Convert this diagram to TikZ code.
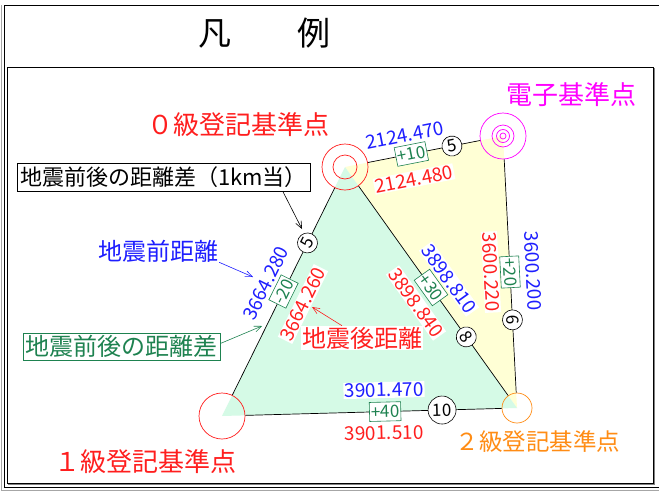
\documentclass[tikz,border=0pt]{standalone}
\usepackage{fontspec}
\setmainfont{Noto Sans CJK JP}
\usetikzlibrary{arrows.meta,calc}
\definecolor{cblue}{RGB}{30,30,255}
\definecolor{cred}{RGB}{255,30,30}
\definecolor{cgreen}{RGB}{30,130,80}
\definecolor{cmag}{RGB}{255,0,255}
\definecolor{corange}{RGB}{255,140,20}
\definecolor{fgreen}{RGB}{213,250,230}
\definecolor{fyellow}{RGB}{255,255,213}
\begin{document}
\begin{tikzpicture}[x=1pt,y=-1pt,
  numlbl/.style={font=\fontsize{19}{19}\selectfont, inner sep=1pt, fill=white},
  bnum/.style={numlbl, text=cblue},
  rnum/.style={numlbl, text=cred},
  diffbox/.style={draw=cgreen, text=cgreen, fill=white, font=\fontsize{17}{17}\selectfont, inner sep=1.5pt, minimum height=19pt, line width=0.6pt},
  cnum/.style={circle, draw, fill=white, font=\fontsize{17}{17}\selectfont, inner sep=0pt, minimum size=20pt, line width=0.6pt},
  station/.style={circle, inner sep=0pt, line width=0.7pt},
  seg/.style={line width=0.7pt},
  ann/.style={line width=0.6pt, -{Straight Barb[length=7pt,width=6pt]}},
  bigtxt/.style={font=\fontsize{26}{26}\selectfont, inner sep=0pt},
  midtxt/.style={font=\fontsize{24}{24}\selectfont, inner sep=1pt},
]
\useasboundingbox (0,0) rectangle (659,493);
% frames
\draw[gray!70, line width=1pt] (1.5,5) -- (1.5,490) -- (659,490);
\draw[line width=0.8pt] (659,5.5) -- (4,5.5) -- (4,487.5) -- (659,487.5);
\draw[line width=0.8pt, fill=white] (7,67) rectangle (653,483);
\draw[gray, line width=1.5pt] (654.5,68) -- (654.5,484.5) -- (8,484.5);
% title
\node[font=\fontsize{33}{33}\selectfont] (title) at (264,33) {凡　　例};
% coordinates of stations
\coordinate (c0) at (345,167);
\coordinate (ce) at (503,136);
\coordinate (c1) at (222,416);
\coordinate (c2) at (517,408);
% fills
\fill[fyellow] (c0) -- (ce) -- (c2) -- cycle;
\fill[fgreen] (c0) -- (c1) -- (c2) -- cycle;
% stations
\node[station, draw=cred, minimum size=46pt] (n0) at (c0) {};
\node[station, draw=cred, minimum size=24pt] (n0i) at (c0) {};
\node[station, draw=cmag, minimum size=46pt] (ne) at (ce) {};
\node[station, draw=cmag, minimum size=22pt] (nei) at (ce) {};
\node[station, draw=cmag, minimum size=13pt] (nej) at (ce) {};
\node[station, draw=cmag, minimum size=6pt] (nek) at (ce) {};
\node[station, draw=cred, minimum size=46pt] (n1) at (c1) {};
\node[station, draw=corange, minimum size=30pt] (n2) at (c2) {};
% edges
\draw[seg] (n0) -- (ne);
\draw[seg] (n0) -- (n1);
\draw[seg] (n0) -- (n2);
\draw[seg] (ne) -- (n2);
\draw[seg] (n1) -- (n2);
% edge 0 - e
\node[bnum, rotate=11.1] (b0e) at (405,135) {2124.470};
\node[rnum, rotate=11.1] (r0e) at (414,179) {2124.480};
\node[diffbox, rotate=11.1] (d0e) at ($(c0)!0.42!(ce)$) {+10};
\node[cnum, rotate=11.1] (k0e) at ($(c0)!0.677!(ce)$) {5};
% edge 0 - 1
\node[bnum, rotate=63.7] (b01) at (266,283) {3664.280};
\node[rnum, rotate=63.7] (r01) at (303,304) {3664.260};
\node[diffbox, rotate=63.7] (d01) at ($(c0)!0.5!(c1)$) {-20};
\node[cnum, rotate=63.7] (k01) at ($(c0)!0.305!(c1)$) {5};
% edge 0 - 2
\node[bnum, rotate=-54.5] (b02) at (449,279) {3898.810};
\node[rnum, rotate=-54.5] (r02) at (416,303) {3898.840};
\node[diffbox, rotate=-54.5] (d02) at ($(c0)!0.5!(c2)$) {+30};
\node[cnum, rotate=-54.5] (k02) at ($(c0)!0.705!(c2)$) {8};
% edge e - 2
\node[bnum, rotate=-87.1] (be2) at (533,271) {3600.200};
\node[rnum, rotate=-87.1] (re2) at (491,272) {3600.220};
\node[diffbox, rotate=-87.1] (de2) at ($(ce)!0.5!(c2)$) {+20};
\node[cnum, rotate=-87.1] (ke2) at ($(ce)!0.676!(c2)$) {6};
% edge 1 - 2
\node[bnum, rotate=1.5] (b12) at (384,390) {3901.470};
\node[rnum, rotate=1.5] (r12) at (384,433) {3901.510};
\node[diffbox, rotate=1.5] (d12) at ($(c1)!0.553!(c2)$) {+40};
\node[cnum, rotate=1.5, minimum size=28pt] (k12) at ($(c1)!0.746!(c2)$) {10};
% station labels
\node[bigtxt, text=cred] (l0) at (238,125) {０級登記基準点};
\node[bigtxt, text=cmag] (le) at (571,95) {電子基準点};
\node[bigtxt, text=cred] (l1) at (145,462) {１級登記基準点};
\node[font=\fontsize{23.5}{23.5}\selectfont, inner sep=0pt, text=corange] (l2) at (538,442) {２級登記基準点};
% legend annotations
\node[draw, line width=0.7pt, fill=white, font=\fontsize{22}{22}\selectfont, minimum width=293pt, minimum height=28pt, inner sep=1pt] (bx1) at (163.5,177.5) {地震前後の距離差（1km当）};
\draw[ann] ($(bx1.south west)!0.907!(bx1.south east)$) -- (302,229);
\node[midtxt, text=cblue] (tpre) at (158,251) {地震前距離};
\draw[ann, cblue] ($(tpre.south east)+(0,-1)$) -- (253,277);
\node[draw=cgreen, line width=0.7pt, fill=white, text=cgreen, font=\fontsize{24}{24}\selectfont, minimum width=197pt, minimum height=27pt, inner sep=1pt] (gbx) at (121.5,346.5) {地震前後の距離差};
\draw[ann, cgreen] ([yshift=3pt]gbx.east) -- (262,326);
\node[midtxt, text=cred, fill=white] (tpost) at (362,338) {地震後距離};
\draw[ann, cred] ([xshift=-20pt]tpost.north) -- (312,307);
\end{tikzpicture}
\end{document}
